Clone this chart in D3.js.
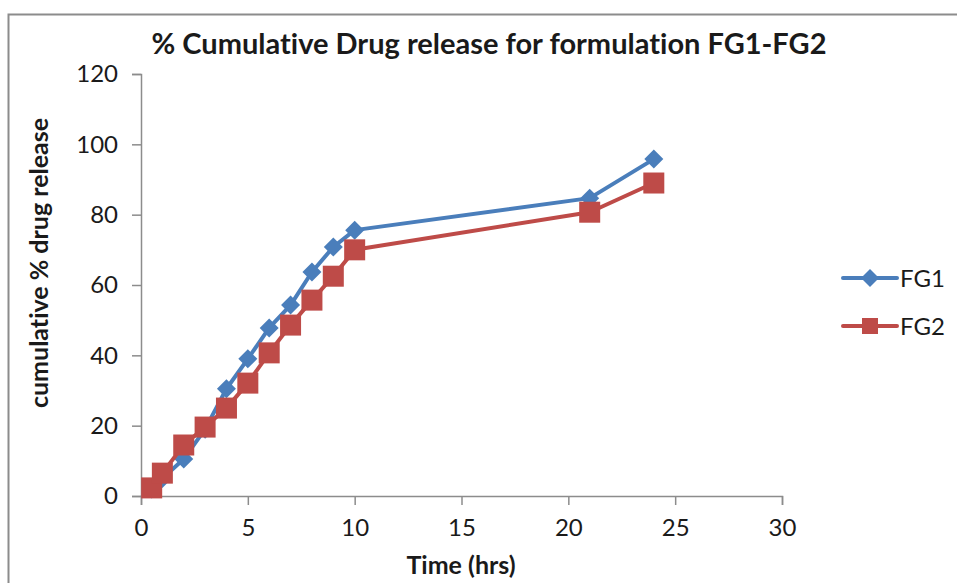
<!DOCTYPE html>
<html>
<head>
<meta charset="utf-8">
<script src="https://cdn.jsdelivr.net/npm/d3@7"></script>
<style>
  html, body { margin: 0; padding: 0; background: #fff; }
  svg { display: block; }
  text { font-family: Lato, "Open Sans", sans-serif; fill: #1a1a1a; font-variant-ligatures: none; }
</style>
</head>
<body>
<svg id="chart" width="957" height="583"></svg>
<script>
// Sampling times (hrs)
const times = [0.5, 1, 2, 3, 4, 5, 6, 7, 8, 9, 10, 21, 24];
// Cumulative % drug release per formulation
const fg1 = [2, 5, 10.5, 19, 30.5, 39, 47.8, 54.3, 63.7, 70.8, 75.6, 84.7, 95.8];
const fg2 = [2.3, 6.5, 14.5, 19.6, 25, 32.1, 40.7, 48.6, 55.7, 62.5, 70, 80.7, 89];
const seriesNames = ["FG1", "FG2"];
const xTicks = [0, 5, 10, 15, 20, 25, 30];
const yTicks = [0, 20, 40, 60, 80, 100, 120];

const colors = { FG1: "#4a7ebb", FG2: "#be4b48" };
const series = [
  { name: seriesNames[0], values: fg1, shape: "diamond" },
  { name: seriesNames[1], values: fg2, shape: "square" }
];

const svg = d3.select("#chart");

// outer chart frame
svg.append("rect")
  .attr("x", 8.5).attr("y", 14.5)
  .attr("width", 970).attr("height", 600)
  .attr("fill", "none").attr("stroke", "#8c8c8c").attr("stroke-width", 2);

const x = d3.scaleLinear().domain([0, 30]).range([141, 782]);
const y = d3.scaleLinear().domain([0, 120]).range([496, 74]);

// axes
const xAxis = svg.append("g")
  .attr("transform", `translate(0,${y(0)})`)
  .call(d3.axisBottom(x).tickValues(xTicks).tickSize(9).tickPadding(14));
const yAxis = svg.append("g")
  .attr("transform", `translate(${x(0)},0)`)
  .call(d3.axisLeft(y).tickValues(yTicks).tickSize(9).tickPadding(14));

[xAxis, yAxis].forEach(g => {
  g.select(".domain").attr("stroke", "#8c8c8c").attr("stroke-width", 1.5);
  g.selectAll(".tick line").attr("stroke", "#8c8c8c").attr("stroke-width", 1.5);
  g.selectAll(".tick text")
    .style("font-family", "Lato, 'Open Sans', sans-serif")
    .style("font-size", "24px").attr("fill", "#1a1a1a");
});

const line = d3.line().x(d => x(d[0])).y(d => y(d[1]));

const diamond = (cx, cy, r) =>
  `M${cx},${cy - r}L${cx + r},${cy}L${cx},${cy + r}L${cx - r},${cy}Z`;

series.forEach(s => {
  const pts = times.map((t, i) => [t, s.values[i]]);
  svg.append("path")
    .datum(pts)
    .attr("d", line)
    .attr("fill", "none")
    .attr("stroke", colors[s.name])
    .attr("stroke-width", 4)
    .attr("stroke-linejoin", "round");
  const g = svg.append("g");
  if (s.shape === "diamond") {
    g.selectAll("path").data(pts).join("path")
      .attr("d", d => diamond(x(d[0]), y(d[1]), 9.5))
      .attr("fill", colors[s.name]);
  } else {
    g.selectAll("rect").data(pts).join("rect")
      .attr("x", d => x(d[0]) - 10.5).attr("y", d => y(d[1]) - 10.5)
      .attr("width", 21).attr("height", 21)
      .attr("fill", colors[s.name]);
  }
});

// legend
const legend = svg.append("g");
series.forEach((s, i) => {
  const ly = 278 + i * 48;
  legend.append("line")
    .attr("x1", 843).attr("x2", 897).attr("y1", ly).attr("y2", ly)
    .attr("stroke", colors[s.name]).attr("stroke-width", 4)
    .attr("stroke-linecap", "round");
  if (s.shape === "diamond") {
    legend.append("path").attr("d", diamond(870, ly, 9)).attr("fill", colors[s.name]);
  } else {
    legend.append("rect").attr("x", 862).attr("y", ly - 8)
      .attr("width", 16).attr("height", 16).attr("fill", colors[s.name]);
  }
  legend.append("text")
    .attr("x", 900).attr("y", ly).attr("dy", "0.36em")
    .style("font-size", "24px").text(s.name);
});

// title and axis titles
svg.append("text")
  .attr("x", 489).attr("y", 54).attr("text-anchor", "middle")
  .style("font-size", "29px").style("font-weight", "bold")
  .text("% Cumulative Drug release for formulation FG1-FG2");

svg.append("text")
  .attr("x", 461).attr("y", 574).attr("text-anchor", "middle")
  .style("font-size", "25px").style("font-weight", "bold")
  .text("Time (hrs)");

svg.append("text")
  .attr("transform", "translate(48,263) rotate(-90)")
  .attr("text-anchor", "middle")
  .style("font-size", "25px").style("font-weight", "bold")
  .text("cumulative %  drug release");
</script>
</body>
</html>
